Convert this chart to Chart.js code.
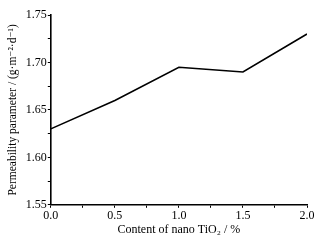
<!DOCTYPE html>
<html>
<head>
<meta charset="utf-8">
<script src="https://cdn.jsdelivr.net/npm/chart.js@4"></script>
<style>
  html, body { margin: 0; padding: 0; background: #fff; }
  #wrap { width: 321px; height: 243px; }
</style>
</head>
<body>
<div id="wrap"><canvas id="permChart" width="321" height="243"></canvas></div>
<script>
const tio2Content = [0.0, 0.5, 1.0, 1.5, 2.0];
const permeability = [1.63, 1.66, 1.695, 1.69, 1.73];
const xLabelTicks = [0.0, 0.5, 1.0, 1.5, 2.0];
const yLabelTicks = [1.55, 1.60, 1.65, 1.70, 1.75];

const serif = "'Liberation Serif', 'DejaVu Serif', serif";
const isLabelled = (v, list) => list.some(t => Math.abs(t - v) < 1e-6);

const ctx = document.getElementById("permChart");

new Chart(ctx, {
  type: "scatter",
  data: {
    datasets: [
      {
        label: "Permeability",
        data: tio2Content.map((x, i) => ({ x: x, y: permeability[i] })),
        showLine: true,
        borderColor: "#000",
        borderWidth: 1.6,
        pointRadius: 0,
        tension: 0,
        fill: false,
      },
    ],
  },
  options: {
    responsive: false,
    animation: false,
    layout: { padding: { top: 15, right: 14, left: 6, bottom: 8 } },
    plugins: {
      legend: { display: false },
      tooltip: { enabled: false },
    },
    scales: {
      x: {
        type: "linear",
        min: 0,
        max: 2,
        border: { display: true, color: "#000", width: 1.6 },
        grid: {
          drawOnChartArea: false,
          color: "#000",
          tickLength: 3,
        },
        ticks: {
          stepSize: 0.25,
          autoSkip: false,
          maxRotation: 0,
          color: "#000",
          padding: 1,
          font: { family: serif, size: 12 },
          callback: (v) => (isLabelled(v, xLabelTicks) ? v.toFixed(1) : ""),
        },
        title: {
          display: true,
          text: "Content of nano TiO\u2082 / %",
          color: "#000",
          font: { family: serif, size: 12, lineHeight: 0.9 },
          padding: { top: 0, bottom: 0 },
        },
      },
      y: {
        min: 1.55,
        max: 1.75,
        border: { display: true, color: "#000", width: 1.6 },
        grid: {
          drawOnChartArea: false,
          color: "#000",
          tickLength: 3,
        },
        ticks: {
          stepSize: 0.025,
          autoSkip: false,
          color: "#000",
          padding: 1,
          font: { family: serif, size: 12 },
          callback: (v) => (isLabelled(v, yLabelTicks) ? v.toFixed(2) : ""),
        },
        title: {
          display: true,
          text: "Permeability parameter / (g\u00b7m\u207b\u00b2\u00b7d\u207b\u00b9)",
          color: "#000",
          font: { family: serif, size: 11.5 },
          padding: { top: 0, bottom: 5 },
        },
      },
    },
  },
});
</script>
</body>
</html>
